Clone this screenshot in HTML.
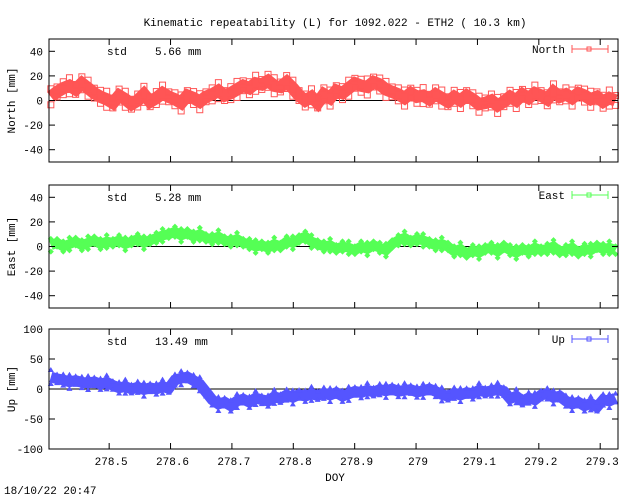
<!DOCTYPE html>
<html><head><meta charset="utf-8"><style>
body{margin:0;background:#fff}
svg{display:block}
text{font-family:"Liberation Mono",monospace;font-size:11px;fill:#000}
</style></head><body>
<svg id="c" width="640" height="496" xmlns="http://www.w3.org/2000/svg">
<text x="335" y="26" text-anchor="middle">Kinematic repeatability (L) for 1092.022 - ETH2  ( 10.3 km)</text>
<text x="335" y="481" text-anchor="middle">DOY</text>
<text x="4" y="494">18/10/22 20:47</text>
</svg>
<script>
const xTicks=[278.5,278.6,278.7,278.8,278.9,279,279.1,279.2,279.3];
const northVals=[3,7,10,12,9,14,10,6,3,1,-2,4,1,-3,0,5,-1,2,6,3,1,-2,4,2,-1,3,5,8,4,6,9,12,10,14,13,16,12,11,15,10,4,0,3,-2,5,2,8,6,10,14,12,11,15,13,9,7,5,2,6,3,4,1,5,2,-1,3,0,4,1,-3,-2,0,-4,-1,3,0,5,2,6,4,1,7,3,5,2,6,4,1,3,-1,2,0];
const eastVals=[1,3,0,2,4,1,3,5,2,4,3,5,2,4,6,3,5,7,9,10,12,9,11,8,10,7,6,8,5,4,6,3,2,0,1,-1,2,0,4,3,6,8,4,2,0,1,-2,0,-1,-3,0,-2,1,-1,-3,2,5,7,4,6,5,3,1,2,0,-4,-2,-6,-3,-5,-2,-1,-4,0,-3,-5,-2,-4,-1,-3,-2,0,-4,-3,-1,-5,-2,-3,0,-2,-1,-3];
const upVals=[20,17,15,12,14,11,10,12,8,11,6,2,4,0,3,-1,2,0,4,1,15,18,20,14,8,-5,-18,-25,-22,-28,-20,-17,-22,-15,-18,-20,-13,-16,-10,-14,-9,-12,-8,-11,-7,-10,-6,-12,-8,-4,-6,-2,-5,-1,-3,0,-4,-2,-1,-5,-3,0,-4,-9,-12,-7,-10,-6,-8,-2,-5,-3,-1,-4,-16,-12,-20,-15,-18,-10,-8,-14,-12,-20,-25,-22,-28,-24,-30,-18,-20,-15];
const doyStart=278.405, doyEnd=279.325;
const xMin=278.402, xMax=279.329, L=49, R=618;
const NS='http://www.w3.org/2000/svg', svg=document.getElementById('c');
const xs=v=>L+(v-xMin)/(xMax-xMin)*(R-L);
function mk(tag,attrs,parent){const e=document.createElementNS(NS,tag);for(const k in attrs)e.setAttribute(k,attrs[k]);(parent||svg).appendChild(e);return e;}
const panels=[
 {name:'north',label:'North [mm]',vals:northVals,top:39,bot:162,lim:50,ticks:[-40,-20,0,20,40],col:'#ff5555',std:'5.66',leg:'North',mark:'sq',band:5},
 {name:'east',label:'East [mm]',vals:eastVals,top:185,bot:308,lim:50,ticks:[-40,-20,0,20,40],col:'#55ff55',std:'5.28',leg:'East',mark:'di',band:4},
 {name:'up',label:'Up [mm]',vals:upVals,top:329,bot:449,lim:100,ticks:[-100,-50,0,50,100],col:'#5555ff',std:'13.49',leg:'Up',mark:'tr',band:9}];
panels.forEach(p=>{
 const g=mk('g',{});
 
 
 const ys=v=>p.bot-(v+p.lim)/(2*p.lim)*(p.bot-p.top);
 const z=mk('line',{x1:L,x2:R,y1:ys(0),y2:ys(0),stroke:'#000','stroke-width':1},g);
 
 
 const n=p.vals.length;
 const pts=p.vals.map((v,i)=>[xs(doyStart+(doyEnd-doyStart)*i/(n-1)),ys(v)]);
 const sg=mk('g',{},g);
 
 
 const h=(p.bot-p.top)/(2*p.lim)*p.band;
 mk('polyline',{points:pts.map(q=>q.join(',')).join(' '),fill:'none',stroke:p.col,'stroke-width':2*h,'stroke-linejoin':'miter'},sg);
 pts.forEach((q,i)=>{
  [-h,h].forEach(d=>{
   const y=q[1]+d*(i%3===0?1.3:(i%3===1?0.8:1.05));
   let m;
   if(p.mark==='sq') m=mk('rect',{x:q[0]-3,y:y-3,width:6,height:6,fill:'none',stroke:p.col},sg);
   else if(p.mark==='di') m=mk('path',{d:`M${q[0]-3},${y}L${q[0]},${y-3}L${q[0]+3},${y}L${q[0]},${y+3}Z`,fill:p.col},sg);
   else m=mk('path',{d:`M${q[0]-3},${y+2}L${q[0]},${y-3}L${q[0]+3},${y+2}Z`,fill:p.col},sg);
   
   
  });
 });
 const f=mk('rect',{x:L,y:p.top,width:R-L,height:p.bot-p.top,fill:'none',stroke:'#000','stroke-width':1},g);
 
 
 p.ticks.forEach(t=>{
  mk('line',{x1:L,x2:L+6,y1:ys(t),y2:ys(t),stroke:'#000'},g);
  mk('line',{x1:R,x2:R-6,y1:ys(t),y2:ys(t),stroke:'#000'},g);
  const tl=mk('text',{x:L-6,y:ys(t)+4,'text-anchor':'end'},g);tl.textContent=t;
  
  
 });
 xTicks.forEach(t=>{
  mk('line',{x1:xs(t),x2:xs(t),y1:p.bot,y2:p.bot-6,stroke:'#000'},g);
  mk('line',{x1:xs(t),x2:xs(t),y1:p.top,y2:p.top+6,stroke:'#000'},g);
 });
 const yl=mk('text',{x:0,y:0,'text-anchor':'middle',transform:`translate(15,${(p.top+p.bot)/2}) rotate(-90)`},g);
 yl.textContent=p.label;
 
 
 const st=mk('text',{x:107,y:p.top+16},g);st.textContent='std';
 
 
 const sv=mk('text',{x:155,y:p.top+16},g);sv.textContent=p.std+' mm';
 
 
 const lt=mk('text',{x:565,y:p.top+14,'text-anchor':'end'},g);lt.textContent=p.leg;
 
 
 const ly=p.top+10;
 mk('line',{x1:572,x2:608,y1:ly,y2:ly,stroke:p.col},g);
 mk('line',{x1:572,x2:572,y1:ly-4,y2:ly+4,stroke:p.col},g);
 mk('line',{x1:608,x2:608,y1:ly-4,y2:ly+4,stroke:p.col},g);
 mk('rect',{x:587,y:ly-2,width:4,height:4,fill:'none',stroke:p.col},g);
});
xTicks.forEach(t=>{
 const e=mk('text',{x:xs(t)+2,y:465,'text-anchor':'middle'});e.textContent=t;
 
 
});
</script>
</body></html>
